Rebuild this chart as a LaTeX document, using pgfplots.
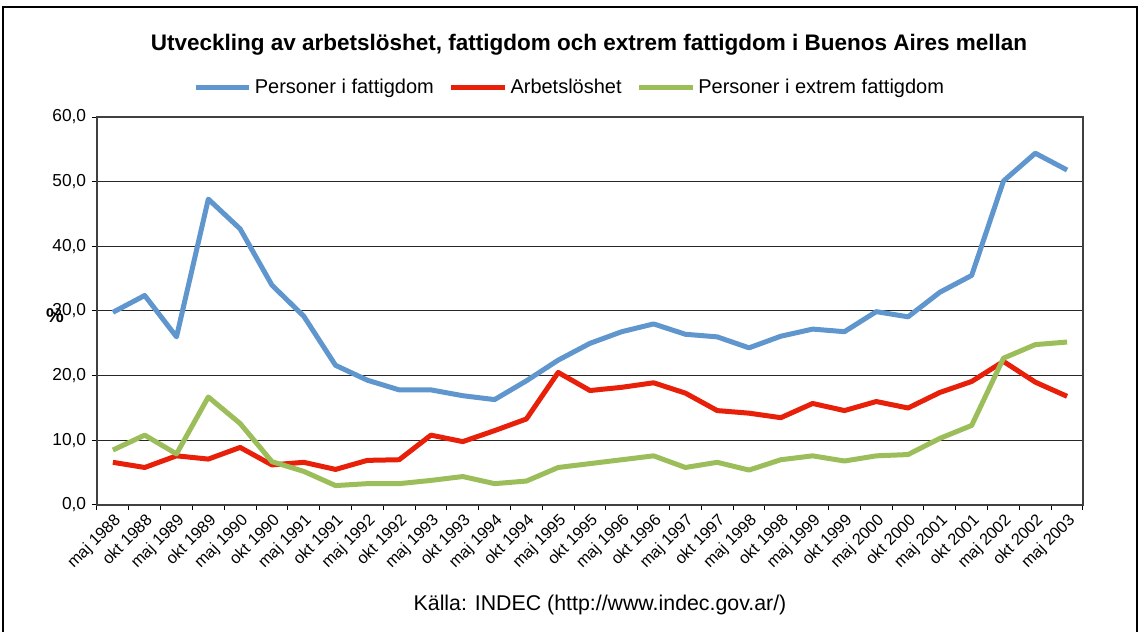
\documentclass[border=0pt]{standalone}
\usepackage{fontspec}
\setmainfont{Liberation Sans}
\usepackage{pgfplots}
\usepackage{pgfplotstable}
\pgfplotsset{compat=1.18}

\definecolor{fattig}{RGB}{96,150,206}
\definecolor{arbets}{RGB}{232,32,10}
\definecolor{extrem}{RGB}{155,190,90}

% index, personer i fattigdom, arbetsloshet, extrem fattigdom
\pgfplotstableread{
i  fattig arbets extrem
0  29.8   6.6    8.5
1  32.4   5.8    10.8
2  26.0   7.6    7.9
3  47.3   7.1    16.7
4  42.7   8.9    12.6
5  34.0   6.2    6.7
6  29.2   6.6    5.2
7  21.6   5.5    3.0
8  19.3   6.9    3.3
9  17.8   7.0    3.3
10 17.8   10.8   3.8
11 16.9   9.8    4.4
12 16.3   11.5   3.3
13 19.2   13.3   3.7
14 22.4   20.5   5.8
15 25.0   17.7   6.4
16 26.8   18.2   7.0
17 28.0   18.9   7.6
18 26.4   17.3   5.8
19 26.0   14.6   6.6
20 24.3   14.2   5.4
21 26.1   13.5   7.0
22 27.2   15.7   7.6
23 26.8   14.6   6.8
24 29.9   16.0   7.6
25 29.1   15.0   7.8
26 32.9   17.4   10.3
27 35.5   19.1   12.3
28 50.1   22.2   22.7
29 54.4   19.0   24.8
30 51.8   16.8   25.2
}\data

\begin{document}
\begin{tikzpicture}[x=0.6pt,y=0.6pt]
\path (0,0) rectangle (1147,632);
\draw[line width=1.2pt] (3,0) -- (3,625) -- (1137,625) -- (1137,0);
\node[font=\bfseries\fontsize{13.5}{15}\selectfont] at (589,587)
  {Utveckling av arbetslöshet, fattigdom och extrem fattigdom i Buenos Aires mellan};

\begin{axis}[
    at={(58.2pt,76.2pt)}, anchor=south west,
    scale only axis,
    width=591.6pt, height=232.8pt,
    xmin=-0.5, xmax=30.5, ymin=0, ymax=60,
    xtick={0,...,30},
    xticklabels={maj 1988, okt 1988, maj 1989, okt 1989, maj 1990, okt 1990,
      maj 1991, okt 1991, maj 1992, okt 1992, maj 1993, okt 1993, maj 1994,
      okt 1994, maj 1995, okt 1995, maj 1996, okt 1996, maj 1997, okt 1997,
      maj 1998, okt 1998, maj 1999, okt 1999, maj 2000, okt 2000, maj 2001,
      okt 2001, maj 2002, okt 2002, maj 2003},
    x tick label style={rotate=45, anchor=north east, inner sep=1pt,
      font=\fontsize{9.8}{11}\selectfont},
    major x tick style={draw=none},
    minor xtick={-0.5,0.5,...,30.5},
    minor x tick style={black, line width=0.6pt},
    ytick={0,10,...,60},
    y tick label style={font=\fontsize{10.4}{12}\selectfont},
    yticklabel style={/pgf/number format/.cd, fixed, fixed zerofill, precision=1, use comma},
    /pgf/number format/assume math mode=true,
    xtick pos=left, ytick pos=left,
    tick align=outside,
    major tick length=3pt, minor tick length=3pt,
    y tick style={black, line width=0.6pt},
    ymajorgrids,
    grid style={black!85, line width=0.6pt},
    axis line style={black!75, line width=0.7pt},
    legend columns=3,
    legend style={draw=none, at={(0.48,1)}, anchor=center, yshift=18pt,
      font=\fontsize{12}{14}\selectfont,
      /tikz/every even column/.append style={column sep=7pt}},
    legend image code/.code={\draw[#1, line width=3pt] (0pt,0pt) -- (32pt,0pt);},
    every axis plot/.append style={line width=3pt, line join=round},
]
\addplot[fattig] table[x=i, y=fattig] {\data};
\addlegendentry{Personer i fattigdom}
\addplot[arbets] table[x=i, y=arbets] {\data};
\addlegendentry{Arbetslöshet}
\addplot[extrem] table[x=i, y=extrem] {\data};
\addlegendentry{Personer i extrem fattigdom}
\end{axis}

\node[font=\bfseries\fontsize{12}{14}\selectfont] at (55,316) {\%};
\node[font=\fontsize{12.8}{15}\selectfont] at (600,27) {Källa: INDEC (http://www.indec.gov.ar/)};
\end{tikzpicture}
\end{document}
